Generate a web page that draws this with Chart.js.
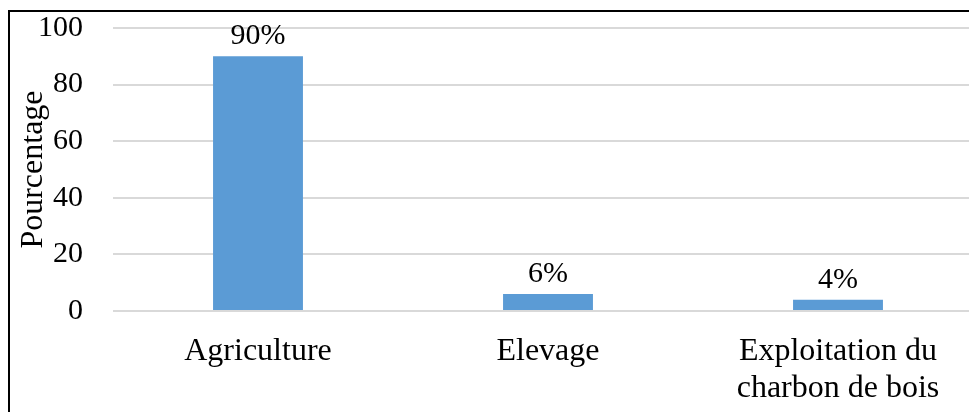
<!DOCTYPE html>
<html>
<head>
<meta charset="utf-8">
<script src="https://cdn.jsdelivr.net/npm/chart.js@4/dist/chart.umd.min.js"></script>
<style>
  html, body { margin: 0; padding: 0; background: #fff; overflow: hidden; }
  body { width: 969px; height: 412px; position: relative; }
  .frame {
    position: absolute; left: 8px; top: 10px; width: 1000px; height: 500px;
    border-left: 2px solid #000; border-top: 2px solid #000;
    box-sizing: border-box; pointer-events: none; z-index: 2;
  }
  .chartBox { position: absolute; left: 0; top: 0; width: 1000px; height: 412px; }
</style>
</head>
<body>
<div class="frame"></div>
<div class="chartBox"><canvas id="jsActivityCanvas"></canvas></div>
<script>
const categories = ["Agriculture", "Elevage", ["Exploitation du", "charbon de bois"]];
const shares = [90, 6, 4];
const yTicks = [0, 20, 40, 60, 80, 100];

const serif = "'Liberation Serif', 'Times New Roman', serif";

// writes "NN%" above each bar
const valueLabels = {
  id: "valueLabels",
  afterDatasetsDraw(chart) {
    const ctx = chart.ctx;
    const meta = chart.getDatasetMeta(0);
    ctx.save();
    ctx.font = "30px " + serif;
    ctx.fillStyle = "#000";
    ctx.textAlign = "center";
    ctx.textBaseline = "alphabetic";
    meta.data.forEach((bar, i) => {
      ctx.fillText(shares[i] + "%", bar.x, bar.y - 12);
    });
    ctx.restore();
  },
};

const activityChart = () => {
  const canvas = document.getElementById("jsActivityCanvas").getContext("2d");

  new Chart(canvas, {
    type: "bar",
    data: {
      labels: categories,
      datasets: [
        {
          label: "Pourcentage",
          data: shares,
          backgroundColor: "#5B9BD5",
          barPercentage: 0.31,
          categoryPercentage: 1,
        },
      ],
    },
    options: {
      responsive: true,
      maintainAspectRatio: false,
      animation: false,
      layout: { padding: { top: 28, right: 17, left: 0, bottom: 0 } },
      plugins: {
        legend: { display: false },
        tooltip: { enabled: false },
      },
      scales: {
        x: {
          border: { display: false },
          grid: { display: false },
          ticks: {
            color: "#000",
            padding: 14,
            font: { family: serif, size: 32, lineHeight: 1.15 },
            maxRotation: 0,
          },
          afterFit: (scale) => { scale.height = 101; },
        },
        y: {
          min: 0,
          max: 100,
          border: { display: false },
          grid: { color: "#D9D9D9", lineWidth: 2, drawTicks: false },
          afterBuildTicks: (scale) => {
            scale.ticks = yTicks.map((v) => ({ value: v }));
          },
          ticks: {
            color: "#000",
            padding: 30,
            font: { family: serif, size: 30 },
          },
          title: {
            display: true,
            text: "Pourcentage",
            color: "#000",
            font: { family: serif, size: 32 },
            padding: { top: 14, bottom: 0 },
          },
          afterFit: (scale) => {
            scale.width = 113;
            // tick padding would otherwise push the plot top down
            scale.paddingTop = 0;
            scale.paddingBottom = 0;
          },
        },
      },
    },
    plugins: [valueLabels],
  });
};

window.addEventListener("DOMContentLoaded", activityChart);
</script>
</body>
</html>
